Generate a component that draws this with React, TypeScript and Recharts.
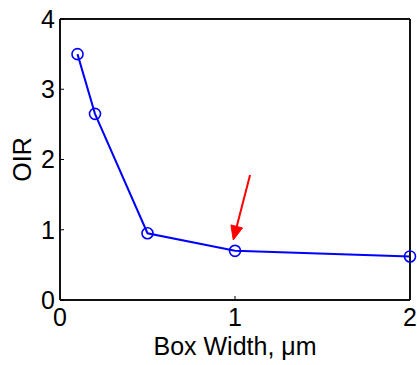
import React from 'react';
import { LineChart, Line, XAxis, YAxis, ReferenceLine } from 'recharts';

const boxWidth = [0.1, 0.2, 0.5, 1, 2];
const oirValues = [3.5, 2.65, 0.95, 0.7, 0.62];
const xTicks = [0, 1, 2];
const yTicks = [0, 1, 2, 3, 4];
const arrowTail = { x: 1.086, y: 1.78 };
const arrowTip = { x: 0.99, y: 0.854 };

const data = boxWidth.map((x, i) => ({ x, oir: oirValues[i] }));

const FONT = 'Liberation Sans, Arial, sans-serif';

const Arrow = (props: any) => {
  const { x1, y1, x2, y2 } = props;
  if ([x1, y1, x2, y2].some((v) => typeof v !== 'number' || isNaN(v))) return null;
  const dx = x2 - x1;
  const dy = y2 - y1;
  const len = Math.sqrt(dx * dx + dy * dy);
  const ux = dx / len;
  const uy = dy / len;
  const headLen = 14;
  const halfW = 6;
  const bx = x2 - ux * headLen;
  const by = y2 - uy * headLen;
  const px = -uy;
  const py = ux;
  return (
    <g>
      <line x1={x1} y1={y1} x2={bx} y2={by} stroke="#ff0000" strokeWidth={2} />
      <polygon
        points={`${x2},${y2} ${bx + px * halfW},${by + py * halfW} ${bx - px * halfW},${by - py * halfW}`}
        fill="#ff0000"
        stroke="#ff0000"
        strokeWidth={1}
      />
    </g>
  );
};

const tickStyle = { fontSize: 25, fill: '#000', fontFamily: FONT };
const labelStyle = { fontSize: 25, fill: '#000', fontFamily: FONT };
const axisLineStyle = { stroke: '#111', strokeWidth: 2 };

export default function App() {
  return (
    <div style={{ position: 'fixed', left: 0, top: 0, width: 417, height: 365, background: '#fff' }}>
      <LineChart
        width={417}
        height={365}
        data={data}
        margin={{ top: 18, right: 6, left: 0, bottom: 0 }}
      >
        <XAxis
          dataKey="x"
          type="number"
          domain={[0, 2]}
          ticks={xTicks}
          tickSize={-4}
          tickMargin={12}
          height={65}
          tick={tickStyle}
          axisLine={axisLineStyle}
          tickLine={{ stroke: '#000', strokeWidth: 1 }}
          label={{ value: 'Box Width, \u03bcm', position: 'center', dy: 14, style: labelStyle }}
        />
        <XAxis
          xAxisId="top"
          dataKey="x"
          type="number"
          domain={[0, 2]}
          ticks={xTicks}
          orientation="top"
          height={1}
          tickSize={-4}
          tick={false}
          axisLine={axisLineStyle}
          tickLine={{ stroke: '#000', strokeWidth: 1 }}
        />
        <YAxis
          type="number"
          domain={[0, 4]}
          ticks={yTicks}
          width={60}
          tickSize={-4}
          tickMargin={9}
          tick={tickStyle}
          axisLine={axisLineStyle}
          tickLine={{ stroke: '#000', strokeWidth: 1 }}
          label={{ value: 'OIR', angle: -90, position: 'center', dx: -8, style: labelStyle }}
        />
        <YAxis
          yAxisId="right"
          type="number"
          domain={[0, 4]}
          ticks={yTicks}
          orientation="right"
          width={1}
          tickSize={-4}
          tick={false}
          axisLine={axisLineStyle}
          tickLine={{ stroke: '#000', strokeWidth: 1 }}
        />
        <Line
          dataKey="oir"
          stroke="#0000ff"
          strokeWidth={2}
          dot={{ r: 5.5, stroke: '#0000ff', strokeWidth: 1.6, fill: 'none' }}
          isAnimationActive={false}
        />
        <ReferenceLine
          segment={[arrowTail, arrowTip]}
          ifOverflow="visible"
          shape={(p: any) => <Arrow {...p} />}
        />
      </LineChart>
    </div>
  );
}
